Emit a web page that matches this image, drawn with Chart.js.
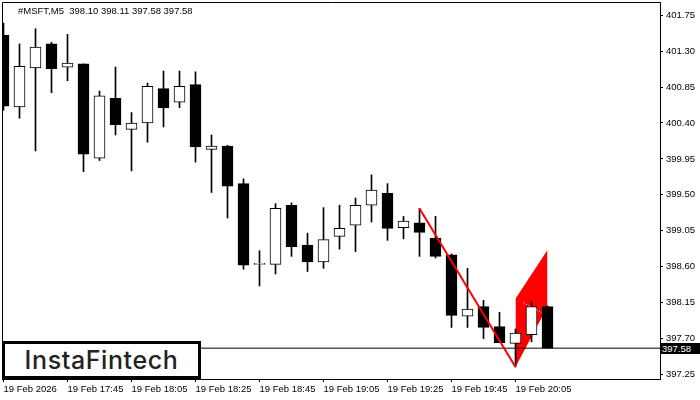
<!DOCTYPE html>
<html>
<head>
<meta charset="utf-8">
<script src="https://cdn.jsdelivr.net/npm/chart.js@4.4.1/dist/chart.umd.min.js"></script>
<style>
body { margin: 0; background: #fff; }
#chart-container { position: relative; width: 700px; height: 400px; }
#title { position: absolute; left: 18px; top: 5px; font: 9.5px "Liberation Sans"; color: #000; white-space: pre; }
#logo { position: absolute; left: 2px; top: 341px; width: 199px; height: 38px; box-sizing: border-box; border: 3px solid #000; background: #fff; font: 500 25px Inter; color: #222; text-align: center; line-height: 32px; letter-spacing: 0.6px; }
#bid-label { position: absolute; left: 660px; top: 343px; width: 40px; height: 11px; box-sizing: border-box; padding-left: 2px; background: #000; color: #fff; font: 9.5px "Liberation Sans"; line-height: 11px; }
</style>
</head>
<body>
<div id="chart-container">
    <canvas id="myChart"></canvas>
    <div id="title">#MSFT,M5  398.10 398.11 397.58 397.58</div>
    <div id="logo">InstaFintech</div>
    <div id="bid-label">397.58</div>
</div>
<script>
// M5 candles, index 0 = 19 Feb 17:25
var opens  = [401.50, 400.60, 401.09, 401.39, 401.10, 401.14, 399.96, 400.71, 400.32, 400.40, 400.83, 400.66, 400.88, 400.07, 400.11, 399.64, 398.63, 398.63, 399.37, 398.87, 398.66, 398.98, 399.12, 399.37, 399.52, 399.09, 399.15, 398.96, 398.75, 397.98, 398.10, 397.85, 397.64, 397.75, 398.10]
var highs  = [401.65, 401.39, 401.58, 401.41, 401.51, 401.14, 400.80, 401.10, 400.53, 400.90, 401.05, 401.05, 401.04, 400.25, 400.12, 399.70, 398.80, 399.39, 399.40, 399.02, 399.34, 399.37, 399.46, 399.75, 399.64, 399.23, 399.33, 399.23, 398.76, 398.58, 398.18, 398.03, 397.82, 398.16, 398.11]
var lows   = [400.56, 400.46, 400.05, 400.78, 400.93, 399.79, 399.93, 400.25, 399.80, 400.16, 400.35, 400.59, 399.91, 399.53, 399.21, 398.57, 398.36, 398.51, 398.73, 398.54, 398.58, 398.82, 398.79, 399.16, 398.93, 398.95, 398.73, 398.71, 397.84, 397.84, 397.70, 397.65, 397.344, 397.66, 397.58]
var closes = [400.61, 401.11, 401.35, 401.08, 401.15, 400.01, 400.74, 400.38, 400.40, 400.86, 400.59, 400.86, 400.10, 400.11, 399.61, 398.62, 398.63, 399.33, 398.85, 398.66, 398.94, 399.08, 399.37, 399.56, 399.08, 399.17, 399.03, 398.73, 397.99, 398.07, 397.84, 397.65, 397.77, 398.10, 397.58]

var xTickIndex = [0, 4, 8, 12, 16, 20, 24, 28, 32]
var xTickLabels = ['19 Feb 2026', '19 Feb 17:45', '19 Feb 18:05', '19 Feb 18:25', '19 Feb 18:45', '19 Feb 19:05', '19 Feb 19:25', '19 Feb 19:45', '19 Feb 20:05']
var yTicks = [397.25, 397.70, 398.15, 398.60, 399.05, 399.50, 399.95, 400.40, 400.85, 401.30, 401.75]

// flag pattern: pole + flag body
var poleX = [26, 32]
var poleY = [399.33, 397.344]
var flagX = [32, 34]
var flagTop = [398.20, 398.81]
var flagBottom = [397.344, 398.10]
var flagMidX = [32.5, 33.67]
var flagMidY = [398.15, 398.02]

var bidPrice = 397.58

Chart.defaults.font.family = 'Liberation Sans'
Chart.defaults.font.size = 9.5
Chart.defaults.color = '#000'

function toPoints(xs, ys) {
    var pts = []
    for (var i = 0; i < xs.length; i++) {
        pts.push({ x: xs[i], y: ys[i] })
    }
    return pts
}

function candleData() {
    var wicks = []
    var bodies = []
    var colors = []
    for (var i = 0; i < opens.length; i++) {
        wicks.push({ x: i, y: [lows[i], highs[i]] })
        bodies.push({ x: i, y: [Math.min(opens[i], closes[i]), Math.max(opens[i], closes[i])] })
        colors.push(closes[i] >= opens[i] ? '#ffffff' : '#000000')
    }
    return { wicks: wicks, bodies: bodies, colors: colors }
}

var framePlugin = {
    id: 'frame',
    afterDraw: function (chart) {
        var a = chart.chartArea
        var ctx = chart.ctx
        ctx.save()
        ctx.strokeStyle = '#000'
        ctx.lineWidth = 1
        ctx.beginPath()
        ctx.moveTo(a.left + 0.5, a.bottom)
        ctx.lineTo(a.left + 0.5, a.top + 0.5)
        ctx.lineTo(a.right, a.top + 0.5)
        ctx.stroke()
        ctx.restore()
    }
}

function createGraph() {
    var c = candleData()
    var ctx = document.getElementById('myChart')

    new Chart(ctx, {
        type: 'bar',
        data: {
            datasets: [
                {
                    type: 'line',
                    data: toPoints(flagX, flagTop),
                    borderWidth: 0,
                    pointRadius: 0,
                    backgroundColor: '#ff0000',
                    fill: 1,
                    order: 5
                },
                {
                    type: 'line',
                    data: toPoints(flagX, flagBottom),
                    borderWidth: 0,
                    pointRadius: 0,
                    fill: false,
                    order: 6
                },
                {
                    data: c.wicks,
                    backgroundColor: '#000',
                    barThickness: 1,
                    grouped: false,
                    order: 3
                },
                {
                    data: c.bodies,
                    backgroundColor: c.colors,
                    borderColor: '#000',
                    borderWidth: 1,
                    borderSkipped: false,
                    barThickness: 11,
                    minBarLength: 1,
                    grouped: false,
                    order: 2
                },
                {
                    type: 'line',
                    data: toPoints(poleX, poleY),
                    borderColor: '#ff0000',
                    borderWidth: 2,
                    pointRadius: 0,
                    order: 1
                },
                {
                    type: 'line',
                    data: toPoints(flagMidX, flagMidY),
                    borderColor: '#ffffff',
                    borderWidth: 1,
                    borderDash: [1, 2],
                    pointRadius: 0,
                    order: 1
                },
                {
                    type: 'line',
                    data: [{ x: -1, y: bidPrice }, { x: 42, y: bidPrice }],
                    borderColor: '#000',
                    borderWidth: 1,
                    pointRadius: 0,
                    order: 4
                }
            ]
        },
        options: {
            responsive: true,
            maintainAspectRatio: false,
            animation: false,
            layout: { padding: { left: 2, top: 2, right: 0, bottom: 0 } },
            scales: {
                x: {
                    type: 'linear',
                    offset: false,
                    min: -0.09375,
                    max: 41.03125,
                    afterBuildTicks: function (scale) {
                        scale.ticks = xTickIndex.map(function (v) { return { value: v } })
                    },
                    afterFit: function (scale) {
                        scale.height = 21
                        scale.paddingLeft = 0
                        scale.paddingRight = 0
                    },
                    grid: { offset: false, drawOnChartArea: false, tickLength: 3, color: '#000' },
                    border: { color: '#000' },
                    ticks: {
                        autoSkip: false,
                        maxRotation: 0,
                        align: 'start',
                        padding: 2,
                        callback: function (value, index) { return xTickLabels[index] }
                    }
                },
                y: {
                    position: 'right',
                    min: 397.194,
                    max: 401.915,
                    afterBuildTicks: function (scale) {
                        scale.ticks = yTicks.map(function (v) { return { value: v } })
                    },
                    afterFit: function (scale) {
                        scale.width = 40
                        scale.paddingTop = 0
                        scale.paddingBottom = 0
                    },
                    grid: { drawOnChartArea: false, tickLength: 3, color: '#000' },
                    border: { color: '#000' },
                    ticks: {
                        padding: 3,
                        callback: function (value) { return value.toFixed(2) }
                    }
                }
            },
            plugins: {
                legend: { display: false },
                tooltip: { enabled: false }
            }
        },
        plugins: [framePlugin]
    })
}

createGraph()
</script>
</body>
</html>
